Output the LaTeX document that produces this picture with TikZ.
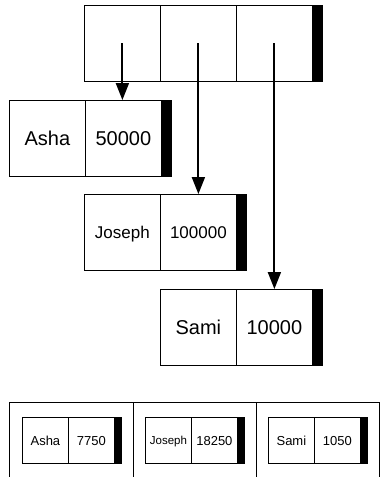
\documentclass[tikz,border=0pt]{standalone}
\usepackage{fontspec}
\setmainfont{Liberation Sans}
\usetikzlibrary{arrows.meta}
\tikzset{
  bigcell/.style={draw, line width=0.8pt, inner sep=0pt, minimum width=76pt, minimum height=76pt, anchor=north west, font=\fontsize{20}{24}\selectfont, text height=14.3pt, text depth=0pt},
  midcell/.style={bigcell, font=\fontsize{17}{20}\selectfont, text height=12.2pt},
  bigbar/.style={draw, fill=black, line width=0.8pt, inner sep=0pt, minimum width=10pt, minimum height=76pt, anchor=north west},
  smallcell/.style={draw, line width=0.8pt, inner sep=0pt, minimum width=46pt, minimum height=46pt, anchor=north west, font=\fontsize{13}{16}\selectfont, text height=9.3pt, text depth=0pt},
  tinycell/.style={smallcell, font=\fontsize{11.5}{14}\selectfont, text height=8.2pt},
  smallbar/.style={draw, fill=black, line width=0.8pt, inner sep=0pt, minimum width=7pt, minimum height=46pt, anchor=north west},
  ptr/.style={line width=2pt, -{Triangle[width=13pt,length=17pt]}},
  frameline/.style={line width=0.8pt}
}
\begin{document}
\begin{tikzpicture}[x={(1pt,0pt)}, y={(0pt,-1pt)}]
\useasboundingbox (0,0) rectangle (380,477);
% top array
\node[bigcell] (a1) at (84,5) {};
\node[bigcell] (a2) at (160,5) {};
\node[bigcell] (a3) at (236,5) {};
\node[bigbar] (abar) at (312,5) {};
% Asha
\node[bigcell] (an) at (9,100) {Asha};
\node[bigcell] (av) at (85,100) {50000};
\node[bigbar] (abar1) at (161,100) {};
% Joseph
\node[midcell] (jn) at (84,194) {Joseph};
\node[midcell] (jv) at (160,194) {100000};
\node[bigbar] (jbar) at (236,194) {};
% Sami
\node[bigcell] (sn) at (160,289) {Sami};
\node[bigcell] (sv) at (236,289) {10000};
\node[bigbar] (sbar) at (312,289) {};
% pointers
\draw[ptr] (a1.center) -- (a1.center |- av.north);
\draw[ptr] (a2.center) -- (a2.center |- jv.north);
\draw[ptr] (a3.center) -- (a3.center |- sv.north);
% bottom frame
\coordinate (f0) at (9,402);
\coordinate (f3) at (379,402);
\draw[frameline] (9,477) -- (f0) -- (f3) -- (379,477);
\draw[frameline] (133,402) -- (133,477);
\draw[frameline] (256,402) -- (256,477);
% bottom records
\node[smallcell] (b1n) at (22,417) {Asha};
\node[smallcell] (b1v) at (68,417) {7750};
\node[smallbar] (b1b) at (114,417) {};
\node[tinycell] (b2n) at (145,417) {Joseph};
\node[smallcell] (b2v) at (191,417) {18250};
\node[smallbar] (b2b) at (237,417) {};
\node[smallcell] (b3n) at (268,417) {Sami};
\node[smallcell] (b3v) at (314,417) {1050};
\node[smallbar] (b3b) at (360,417) {};
\end{tikzpicture}
\end{document}
